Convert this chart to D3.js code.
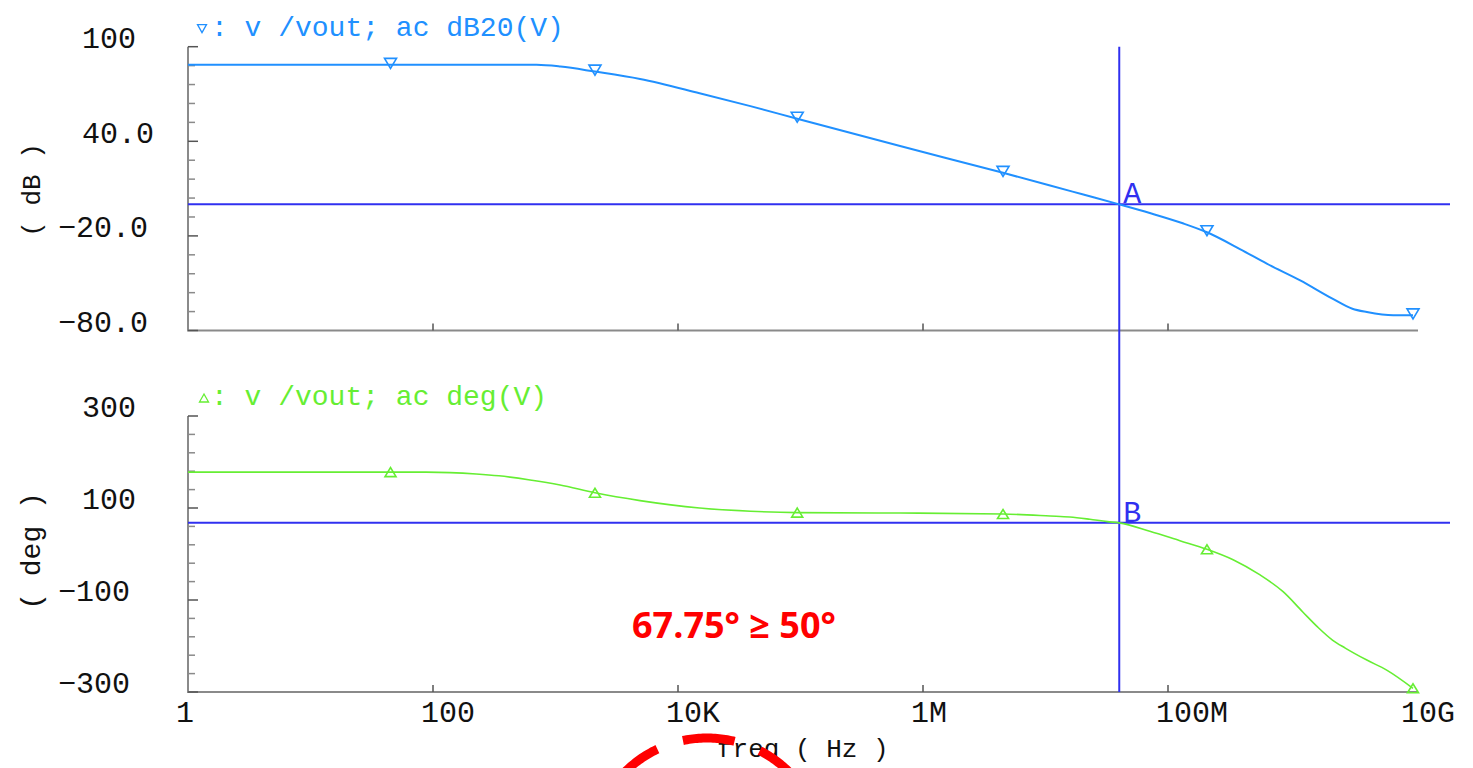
<!DOCTYPE html>
<html>
<head>
<meta charset="utf-8">
<script src="https://cdn.jsdelivr.net/npm/d3@7"></script>
<style>
  body { margin: 0; background: #fff; }
  svg { display: block; }
  .mono { font-family: "Liberation Mono", "DejaVu Sans Mono", monospace; font-feature-settings: "zero" 1; }
</style>
</head>
<body>
<svg id="chart" width="1473" height="768"></svg>
<script>
// AC analysis of v /vout: gain (dB20) and phase (deg) versus frequency (Hz)
const magFreq = [1, 45, 700, 1100, 2100, 4900, 15000, 39000, 94000, 650000, 4.5e6, 1.09e7, 2e7, 4e7,
                 7.1e7, 1.32e8, 2.08e8, 3.9e8, 6.4e8, 1.2e9, 2.2e9, 3.2e9, 4.2e9, 6.9e9, 1e10];
const magDb = [88.5, 88.5, 88.5, 87.4, 84.2, 79.5, 70.5, 62.3, 54.3, 37.0, 20.0, 12.0, 6.4, 0,
               -5.5, -12.0, -17.7, -28.5, -37.6, -48.2, -59.8, -66.2, -68.3, -70.4, -70.4];

const phaseFreq = [1, 45, 88, 225, 345, 620, 1090, 2100, 4900, 15000, 39000, 94000, 650000, 4.5e6, 1.09e7,
                   1.58e7, 2.3e7, 3.2e7, 4e7, 7.1e7, 1.25e8, 2.08e8, 3.4e8, 5.6e8, 8.7e8, 1.26e9,
                   1.67e9, 2.2e9, 2.8e9, 4.2e9, 6.1e9, 1e10];
const phaseDeg = [178, 178, 178, 174, 170, 161, 150, 133, 116, 100, 93, 90, 89, 87, 82.7,
                  80.5, 75.5, 70.3, 67.75, 49.6, 29, 10.4, -12.4, -45, -82, -126,
                  -159, -187, -204.5, -230.6, -252.4, -292];

// symbol markers are placed on these sweep points
const markerFreq = [45, 2100, 94000, 4.5e6, 2.08e8, 1e10];

const xTickValues = [1, 100, 1e4, 1e6, 1e8, 1e10];
const xTickLabels = ["1", "100", "10K", "1M", "100M", "10G"];

const magTickValues = [100, 40, -20, -80];
const magTickLabels = ["100", "40.0", "-20.0", "-80.0"];
const phaseTickValues = [300, 100, -100, -300];
const phaseTickLabels = ["300", "100", "-100", "-300"];

// unity-gain cursor: A on gain, B on phase
const cursorFreq = 4e7;
const cursorGain = 0;
const cursorPhase = 67.75;
const marginRequired = 50;

const svg = d3.select("#chart");
const axisColor = "#8a8a8a";
const magColor = "#2090ff";
const phaseColor = "#66ee33";
const cursorColor = "#3030f0";
const labelSize = 30;
const titleSize = 26;

const x = d3.scaleLog().domain([1, 1e10]).range([188, 1413]);
const yMag = d3.scaleLinear().domain([-80, 100]).range([330.5, 46.7]);
const yPh = d3.scaleLinear().domain([-300, 300]).range([692, 416]);

function drawPanel(y, tickVals, tickLabels, minorStep, xAxisY) {
  const g = svg.append("g");
  const [lo, hi] = y.domain();
  // left axis line and bottom axis line
  g.append("line").attr("x1", 188).attr("x2", 188).attr("y1", y(hi)).attr("y2", y(lo))
    .attr("stroke", axisColor).attr("stroke-width", 2);
  g.append("line").attr("x1", 187).attr("x2", 1418).attr("y1", xAxisY).attr("y2", xAxisY)
    .attr("stroke", axisColor).attr("stroke-width", 2);
  // minor and major ticks on the value axis (pointing inward)
  const minors = d3.range(lo, hi + 0.001, minorStep);
  g.selectAll(".minor").data(minors).join("line")
    .attr("x1", 188).attr("x2", d => tickVals.includes(d) ? 198 : 195)
    .attr("y1", d => y(d)).attr("y2", d => y(d))
    .attr("stroke", d => tickVals.includes(d) ? "#555" : axisColor).attr("stroke-width", 1.5);
  // value labels sit just above their ticks, sign hangs left
  g.selectAll(".lab").data(tickVals).join("text")
    .attr("class", "mono")
    .attr("x", (d, i) => tickLabels[i].startsWith("-") ? 58 : 82)
    .attr("y", d => y(d) - 9)
    .attr("dy", "0.34em")
    .attr("font-size", labelSize)
    .attr("fill", "#111")
    .text((d, i) => tickLabels[i].replace("-", "\u2212"));
  // decade ticks on the frequency axis
  g.selectAll(".xt").data(xTickValues.slice(1, -1)).join("line")
    .attr("x1", d => x(d)).attr("x2", d => x(d))
    .attr("y1", xAxisY).attr("y2", xAxisY - 7)
    .attr("stroke", "#555").attr("stroke-width", 1.5);
  return g;
}

drawPanel(yMag, magTickValues, magTickLabels, 12, 330.5);
drawPanel(yPh, phaseTickValues, phaseTickLabels, 40, 692);

// frequency labels under the lower panel
svg.selectAll(".xlab").data(xTickValues).join("text")
  .attr("class", "mono")
  .attr("x", d => x(d) - 12)
  .attr("y", 722)
  .attr("font-size", labelSize)
  .attr("fill", "#111")
  .text((d, i) => xTickLabels[i]);

svg.append("text").attr("class", "mono")
  .attr("x", 717).attr("y", 757).attr("font-size", titleSize).attr("fill", "#111")
  .attr("xml:space", "preserve")
  .text("freq ( Hz )");

// rotated unit titles
svg.append("text").attr("class", "mono")
  .attr("transform", "translate(40,190) rotate(-90)")
  .attr("text-anchor", "middle").attr("font-size", titleSize).attr("fill", "#111")
  .attr("xml:space", "preserve")
  .text("( dB )");
svg.append("text").attr("class", "mono")
  .attr("transform", "translate(40,551) rotate(-90)")
  .attr("text-anchor", "middle").attr("font-size", 28).attr("fill", "#111")
  .attr("xml:space", "preserve")
  .text("( deg )");

// cursors
svg.append("line").attr("x1", x(cursorFreq)).attr("x2", x(cursorFreq))
  .attr("y1", yMag(100)).attr("y2", yPh(-300))
  .attr("stroke", cursorColor).attr("stroke-width", 2);
svg.append("line").attr("x1", 188).attr("x2", 1450)
  .attr("y1", yMag(cursorGain)).attr("y2", yMag(cursorGain))
  .attr("stroke", cursorColor).attr("stroke-width", 2);
svg.append("line").attr("x1", 188).attr("x2", 1450)
  .attr("y1", yPh(cursorPhase)).attr("y2", yPh(cursorPhase))
  .attr("stroke", cursorColor).attr("stroke-width", 2);

// traces
const magData = magFreq.map((f, i) => ({ f, v: magDb[i] }));
const phData = phaseFreq.map((f, i) => ({ f, v: phaseDeg[i] }));

svg.append("path").datum(magData)
  .attr("fill", "none").attr("stroke", magColor).attr("stroke-width", 2)
  .attr("d", d3.line().x(d => x(d.f)).y(d => yMag(d.v)).curve(d3.curveMonotoneX));
svg.append("path").datum(phData)
  .attr("fill", "none").attr("stroke", phaseColor).attr("stroke-width", 1.6)
  .attr("d", d3.line().x(d => x(d.f)).y(d => yPh(d.v)).curve(d3.curveMonotoneX));

// trace symbols
const downTri = (cx, cy, w, h) => `M${cx - w / 2},${cy - h * 0.55}L${cx + w / 2},${cy - h * 0.55}L${cx},${cy + h * 0.45}Z`;
const upTri = (cx, cy, w, h) => `M${cx - w / 2},${cy + h / 2}L${cx + w / 2},${cy + h / 2}L${cx},${cy - h / 2}Z`;

svg.selectAll(".mm").data(markerFreq.map(f => magData.find(d => d.f === f))).join("path")
  .attr("d", d => downTri(x(d.f), yMag(d.v) - 1, 12, 10))
  .attr("fill", "none").attr("stroke", magColor).attr("stroke-width", 1.6);
svg.selectAll(".pm").data(markerFreq.map(f => phData.find(d => d.f === f))).join("path")
  .attr("d", d => upTri(x(d.f), yPh(d.v), 11, 9))
  .attr("fill", "none").attr("stroke", phaseColor).attr("stroke-width", 1.6);

// legends
svg.append("path").attr("d", downTri(202, 29, 9, 8))
  .attr("fill", "none").attr("stroke", magColor).attr("stroke-width", 1.3);
svg.append("text").attr("class", "mono")
  .attr("x", 211).attr("y", 36).attr("font-size", 28).attr("fill", magColor)
  .attr("xml:space", "preserve")
  .text(": v /vout; ac dB20(V)");

svg.append("path").attr("d", upTri(204, 398, 9, 8))
  .attr("fill", "none").attr("stroke", phaseColor).attr("stroke-width", 1.3);
svg.append("text").attr("class", "mono")
  .attr("x", 211).attr("y", 405).attr("font-size", 28).attr("fill", phaseColor)
  .attr("xml:space", "preserve")
  .text(": v /vout; ac deg(V)");

// cursor tags
svg.append("text").attr("class", "mono")
  .attr("x", x(cursorFreq) + 4).attr("y", yMag(cursorGain) - 1)
  .attr("font-size", labelSize).attr("fill", cursorColor).text("A");
svg.append("text").attr("class", "mono")
  .attr("x", x(cursorFreq) + 4).attr("y", yPh(cursorPhase) - 1)
  .attr("font-size", labelSize).attr("fill", cursorColor).text("B");

// phase margin annotation
svg.append("text")
  .attr("x", 632).attr("y", 638)
  .attr("font-family", "'Open Sans', 'Liberation Sans', sans-serif")
  .attr("font-weight", 700).attr("font-size", 36).attr("fill", "#ff0000")
  .text(`${cursorPhase}\u00b0 \u2265 ${marginRequired}\u00b0`);

// dashed highlight ring around the frequency title
const ring = { cx: 707, cy: 854, r: 116 };
const arcPts = d3.range(-51, 61, 1).map(a => {
  const t = a * Math.PI / 180;
  return [ring.cx + ring.r * Math.sin(t), ring.cy - ring.r * Math.cos(t)];
});
svg.append("path").attr("d", d3.line()(arcPts))
  .attr("fill", "none").attr("stroke", "#ff0000").attr("stroke-width", 9)
  .attr("stroke-dasharray", "52 27");
</script>
</body>
</html>
